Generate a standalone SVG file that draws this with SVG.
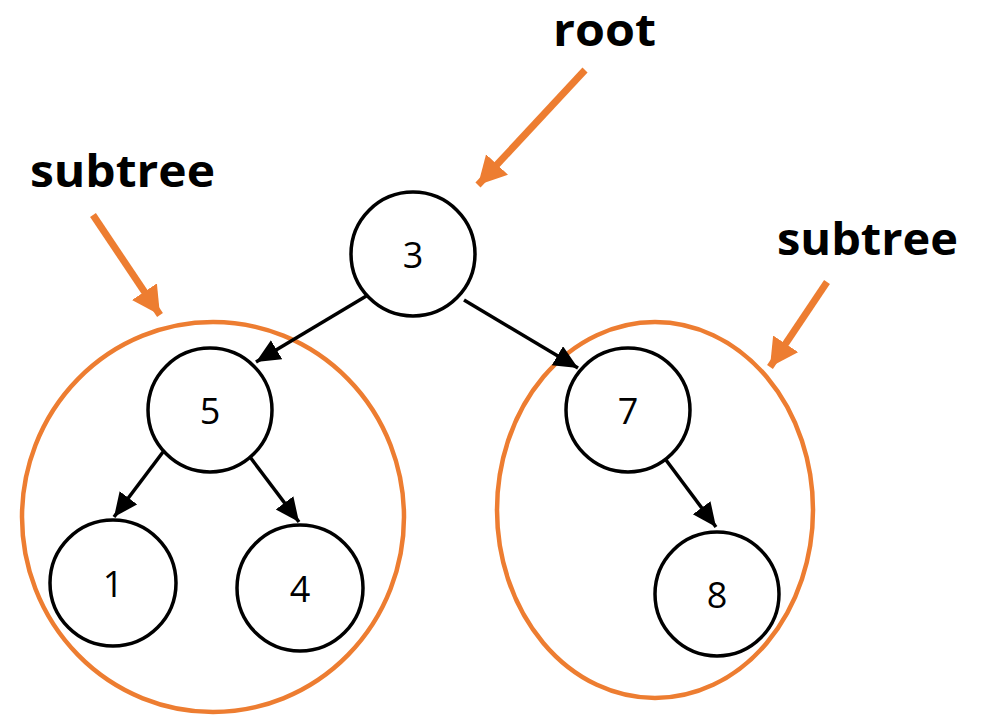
<svg xmlns="http://www.w3.org/2000/svg" width="984" height="715" viewBox="0 0 984 715">
<defs>
<marker id="ah" markerUnits="userSpaceOnUse" markerWidth="26" markerHeight="24" refX="24" refY="11" orient="auto" viewBox="0 0 26 24">
<path d="M0,0 L24,11 L0,22 z" fill="#000"/>
</marker>
<marker id="oh" markerUnits="userSpaceOnUse" markerWidth="32" markerHeight="32" refX="28" refY="15" orient="auto" viewBox="0 0 32 32">
<path d="M0,0 L28,15 L0,30 z" fill="#ED7D31"/>
</marker>
<style>
.node circle{fill:#fff;stroke:#000;stroke-width:3.5}
.node text{font-family:"Open Sans","Liberation Sans",sans-serif;font-size:36px;fill:#000;text-anchor:middle;dominant-baseline:central}
.edge{stroke:#000;stroke-width:3.5;fill:none;marker-end:url(#ah)}
.hl{fill:none;stroke:#ED7D31;stroke-width:4.5}
.oarrow{stroke:#ED7D31;stroke-width:7;fill:none;marker-end:url(#oh)}
.lbl{font-family:"Open Sans","Liberation Sans",sans-serif;font-weight:bold;font-size:44px;fill:#000}
</style>
</defs>
<rect width="984" height="715" fill="#fff"/>
<g id="subtree-left"><ellipse class="hl" cx="213" cy="517" rx="191" ry="195"/></g>
<g id="subtree-right"><ellipse class="hl" cx="655" cy="510" rx="158" ry="188"/></g>
<g id="connectors">
<line class="edge" x1="368" y1="295" x2="256" y2="362"/>
<line class="edge" x1="464" y1="300" x2="578" y2="368"/>
<line class="edge" x1="163" y1="452" x2="114" y2="517"/>
<line class="edge" x1="250" y1="457" x2="299" y2="522"/>
<line class="edge" x1="666" y1="460" x2="716" y2="527"/>
</g>
<g id="node-3" class="node"><circle cx="413" cy="254" r="62"/><text x="413" y="254">3</text></g>
<g id="node-5" class="node"><circle cx="210" cy="410" r="62"/><text x="210" y="410">5</text></g>
<g id="node-7" class="node"><circle cx="628" cy="410" r="62"/><text x="628" y="410">7</text></g>
<g id="node-1" class="node"><circle cx="113" cy="583" r="63"/><text x="113" y="583">1</text></g>
<g id="node-4" class="node"><circle cx="300" cy="588" r="63"/><text x="300" y="588">4</text></g>
<g id="node-8" class="node"><circle cx="717" cy="594" r="62"/><text x="717" y="594">8</text></g>
<g id="annotations">
<line class="oarrow" x1="585" y1="70" x2="478" y2="185"/>
<line class="oarrow" x1="93" y1="215" x2="160" y2="315"/>
<line class="oarrow" x1="827" y1="282" x2="770" y2="367"/>
<text class="lbl" x="553" y="46" font-size="40" textLength="103" lengthAdjust="spacingAndGlyphs">root</text>
<text class="lbl" x="30" y="187" textLength="185" lengthAdjust="spacingAndGlyphs">subtree</text>
<text class="lbl" x="777" y="255" textLength="181" lengthAdjust="spacingAndGlyphs">subtree</text>
</g>
</svg>
